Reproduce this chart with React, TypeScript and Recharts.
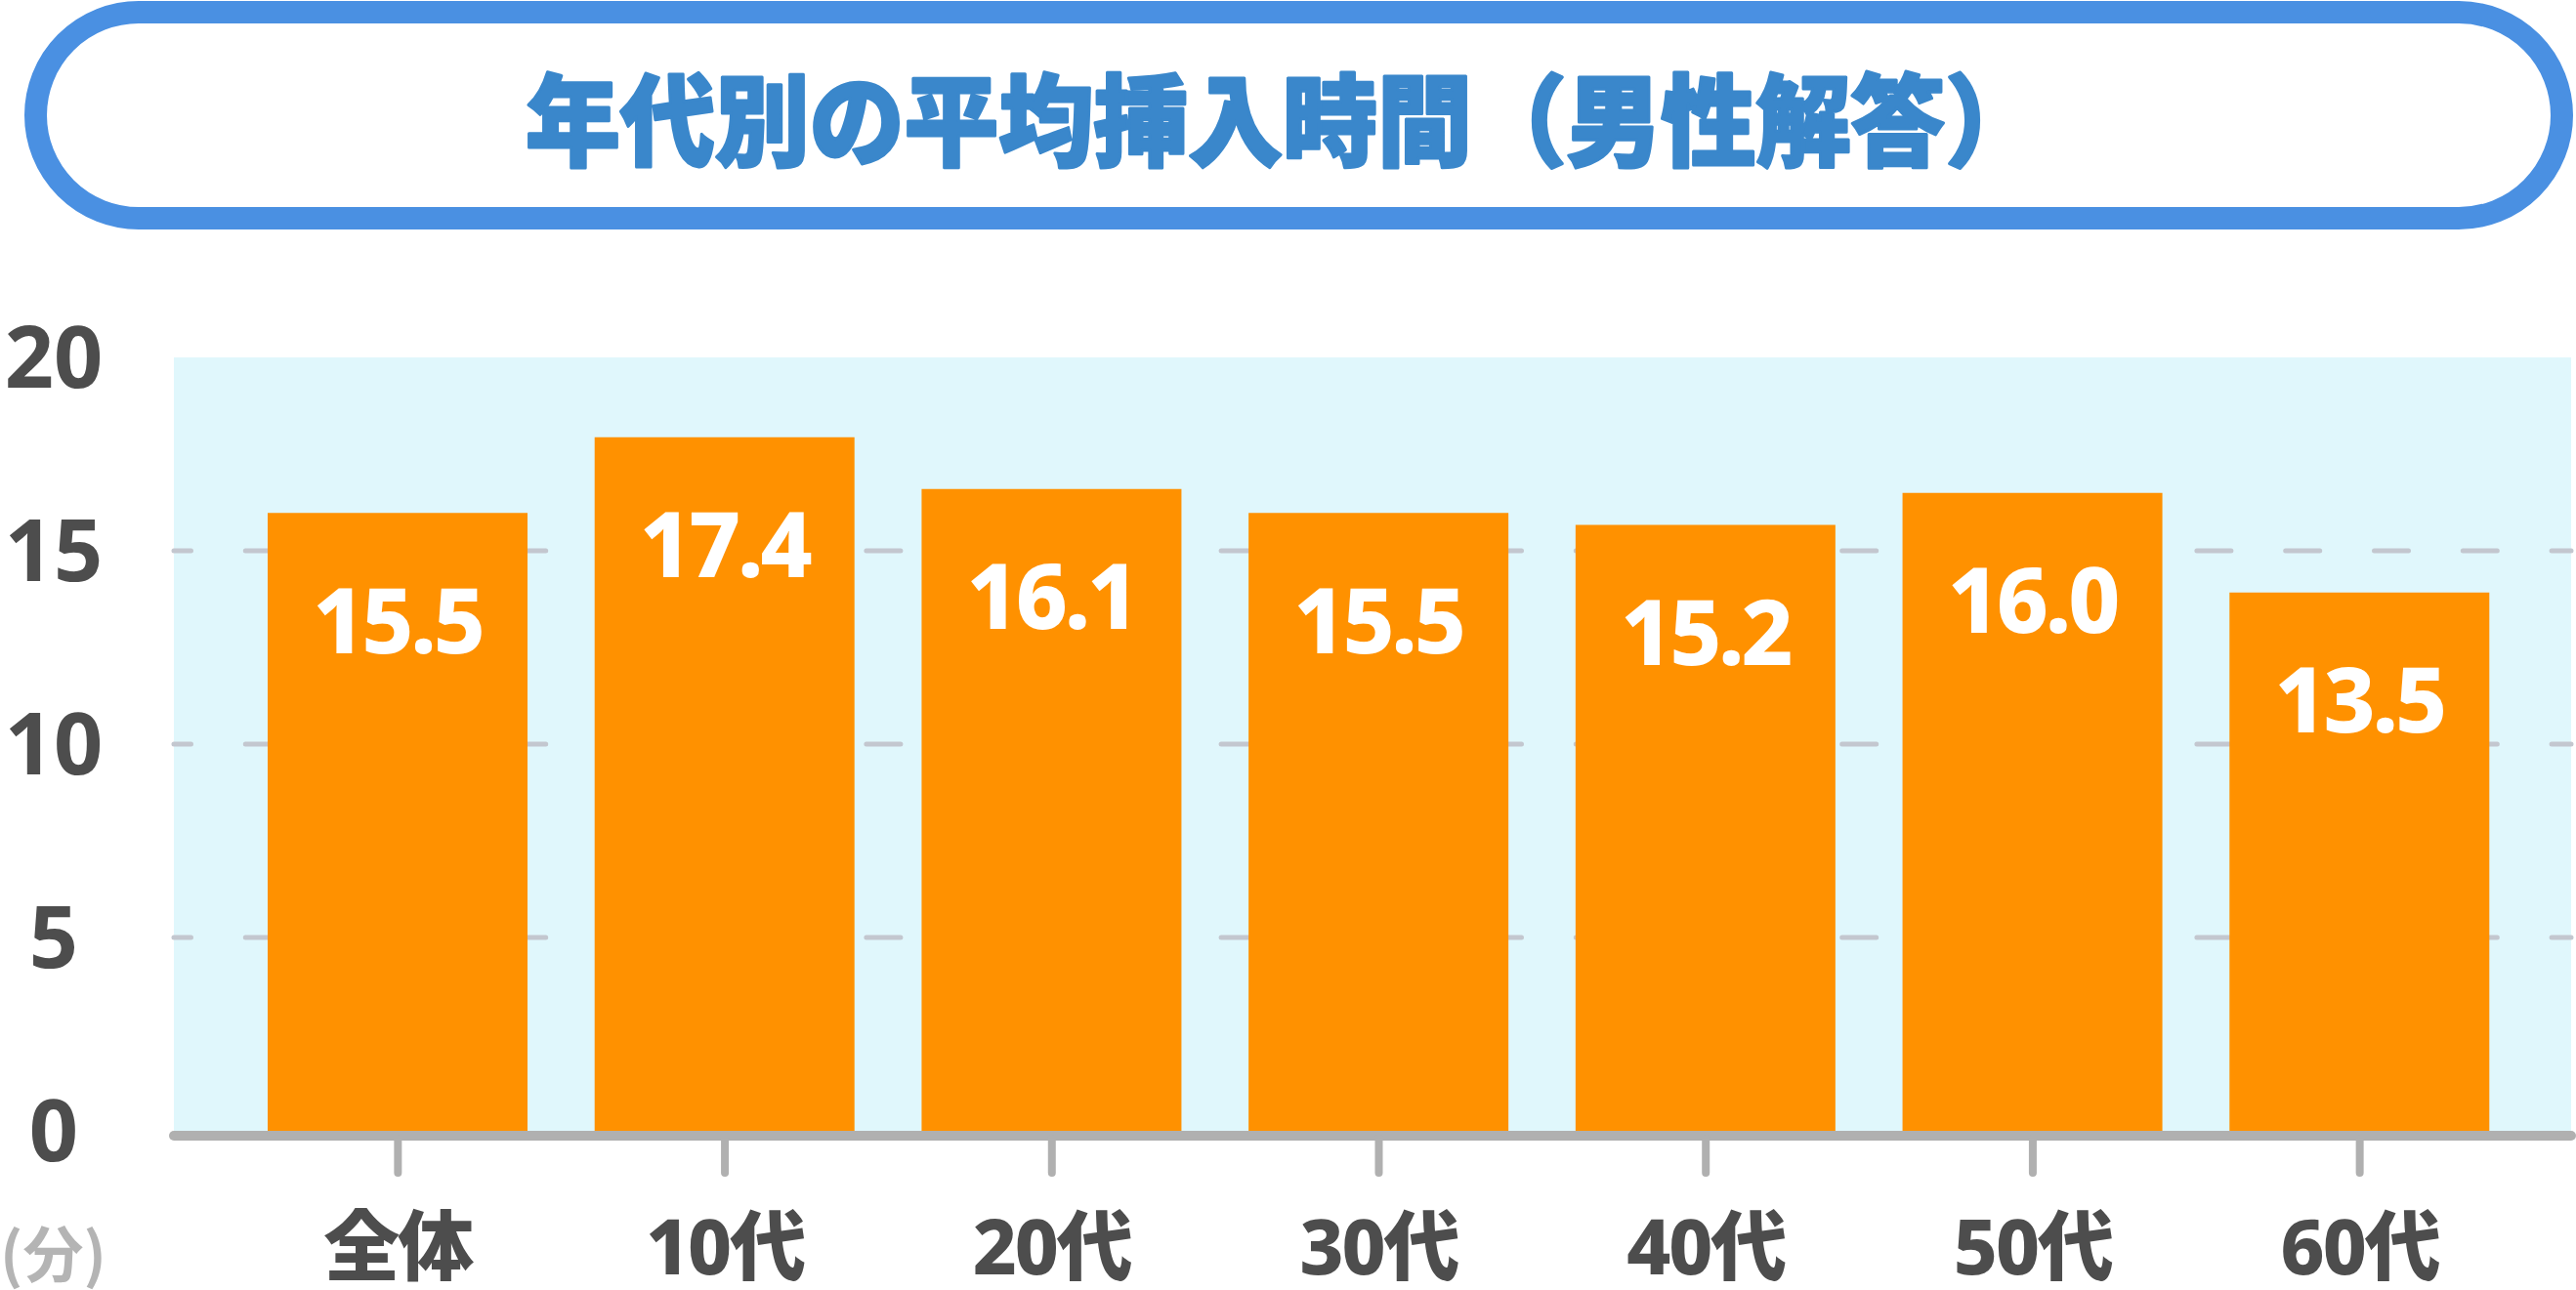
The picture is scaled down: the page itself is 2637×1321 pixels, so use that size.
import React from 'react';
import { BarChart, Bar, XAxis, YAxis, CartesianGrid, LabelList } from 'recharts';

const categories = ['全体', '10代', '20代', '30代', '40代', '50代', '60代'];
const minutes = [15.5, 17.4, 16.1, 15.5, 15.2, 16.0, 13.5];
const yTicks = [0, 5, 10, 15, 20];

const title = '年代別の平均挿入時間（男性解答）';
const unitLabel = '(分)';

const data = categories.map((name, i) => ({ name, value: minutes[i] }));

const JP = '"Noto Sans CJK JP", "Noto Sans", sans-serif';
const JP_HEAVY = '"Noto Sans CJK JP Black", "Noto Sans CJK JP", sans-serif';
const NUM_JP = '"Noto Sans", "Noto Sans CJK JP", sans-serif';

const Y_LABEL_X = 55;

// grid lines: dashed at inner ticks, thick gray axis line at 0
const GridLine = (props: any) => {
  const { x1, x2, y1, y, height, index } = props;
  const top = y;
  const bottom = y + height;
  if (Math.abs(y1 - bottom) < 1) {
    return (
      <line key={`g-${index}`} x1={x1} x2={x2} y1={y1 + 5} y2={y1 + 5}
        stroke="#b0b0b0" strokeWidth={10} strokeLinecap="round" />
    );
  }
  if (Math.abs(y1 - top) < 1) return <g key={`g-${index}`} />;
  return (
    <line key={`g-${index}`} x1={x1} x2={x2} y1={y1} y2={y1}
      stroke="#c3c7cf" strokeWidth={5} strokeLinecap="round"
      strokeDasharray="35 55.8" strokeDashoffset={17.5} />
  );
};

const XTick = ({ x, y, payload }: any) => (
  <g>
    <line x1={x} x2={x} y1={y + 8} y2={y + 43} stroke="#b0b0b0" strokeWidth={8} strokeLinecap="round" />
    <text x={x} y={y + 117} textAnchor="middle" dominantBaseline="central"
      fill="#4d4d4d" fontFamily={NUM_JP} fontWeight={800} fontSize={78} letterSpacing={-2}>
      {payload.value}
    </text>
  </g>
);

const YTick = ({ y, payload }: any) => (
  <text x={Y_LABEL_X} y={y + 31} textAnchor="middle" fill="#4d4d4d"
    fontFamily='"Noto Sans", sans-serif' fontWeight={700} fontSize={88}>
    {payload.value}
  </text>
);

const ValueLabel = ({ x, y, width, value }: any) => (
  <text x={x + width / 2} y={y + 108} textAnchor="middle" dominantBaseline="central"
    fill="#ffffff" fontFamily='"Noto Sans", sans-serif' fontWeight={800} fontSize={92} letterSpacing={-3}>
    {Number(value).toFixed(1)}
  </text>
);

const App: React.FC = () => {
  return (
    <div style={{ position: 'absolute', left: 0, top: 0, width: 2637, height: 1321, background: '#fff' }}>
      <svg width={2637} height={240} style={{ position: 'absolute', left: 0, top: 0 }}>
        <rect x={36.5} y={12.5} width={2586} height={211} rx={105.5} ry={105.5}
          fill="#ffffff" stroke="#4a90e2" strokeWidth={23} />
        <text x={538} y={117} dominantBaseline="central" fill="#3a87cb"
          stroke="#3a87cb" strokeWidth={3} strokeLinejoin="round"
          fontFamily={JP_HEAVY} fontWeight={900} fontSize={102}
          textLength={1550} lengthAdjust="spacingAndGlyphs">
          {title}
        </text>
      </svg>
      <div style={{ position: 'absolute', left: 0, top: 0 }}>
        <BarChart width={2637} height={1321} data={data}
          margin={{ top: 366, right: 5, bottom: 0, left: 0 }}>
          <CartesianGrid yAxisId="grid" vertical={false} fill="#e0f7fc" fillOpacity={1}
            horizontal={GridLine} />
          <XAxis dataKey="name" height={163} axisLine={false} tickLine={false}
            tickSize={0} tickMargin={0} interval={0}
            padding={{ left: 62, right: 49 }} tick={<XTick />} />
          <YAxis yAxisId="grid" type="number" domain={[0, 20]} allowDataOverflow ticks={yTicks}
            interval={0} width={178} axisLine={false} tickLine={false} tickSize={0} tickMargin={0}
            tick={<YTick />} />
          {/* the source image draws its bars about 3% taller than its own gridlines */}
          <YAxis yAxisId="bars" type="number" domain={[0, 19.4]} allowDataOverflow hide />
          <Bar yAxisId="bars" dataKey="value" fill="#ff9100" barSize={266} isAnimationActive={false}>
            <LabelList dataKey="value" content={<ValueLabel />} />
          </Bar>
        </BarChart>
      </div>
      <div style={{ position: 'absolute', left: 0, top: 1245, fontFamily: JP, fontWeight: 700,
        fontSize: 62, color: '#b4b4b4', lineHeight: '72px' }}>
        {unitLabel}
      </div>
    </div>
  );
};

export default App;
